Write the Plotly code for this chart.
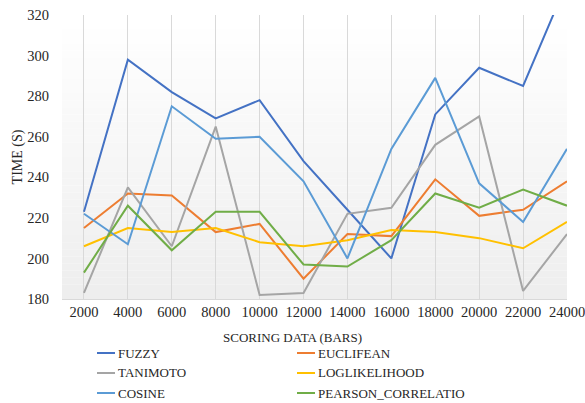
import plotly.graph_objects as go

categories = ["2000", "4000", "6000", "8000", "10000", "12000", "14000",
              "16000", "18000", "20000", "22000", "24000"]
fuzzy = [223, 298, 282, 269, 278, 248, 224, 200, 271, 294, 285, 336]
euclifean = [215, 232, 231, 213, 217, 190, 212, 211, 239, 221, 224, 238]
tanimoto = [183, 235, 206, 265, 182, 183, 222, 225, 256, 270, 184, 212]
loglikelihood = [206, 215, 213, 215, 208, 206, 209, 214, 213, 210, 205, 218]
cosine = [222, 207, 275, 259, 260, 238, 200, 254, 289, 237, 218, 254]
pearson = [193, 226, 204, 223, 223, 197, 196, 209, 232, 225, 234, 226]
y_ticks = [180, 200, 220, 240, 260, 280, 300, 320]

series_names = ["FUZZY", "EUCLIFEAN", "TANIMOTO", "LOGLIKELIHOOD", "COSINE",
                "PEARSON_CORRELATIO"]
series_values = [fuzzy, euclifean, tanimoto, loglikelihood, cosine, pearson]
series_colors = ["#4472C4", "#ED7D31", "#A5A5A5", "#FFC000", "#5B9BD5", "#70AD47"]

FONT = "Liberation Serif, Times New Roman, serif"
TXT = "#262626"

W, H = 585, 403
ML, MR, MT, MB = 62, 18, 15, 104
PW, PH = W - ML - MR, H - MT - MB


def px_x(px):
    return (px - ML) / PW


def px_y(py):
    return (H - MB - py) / PH


fig = go.Figure()
for name, vals, col in zip(series_names, series_values, series_colors):
    fig.add_trace(go.Scatter(x=categories, y=vals, mode="lines", name=name,
                             line=dict(color=col, width=2), showlegend=False))

# gradient plot background (white at top to light gray at bottom)
n = 40
shapes = []
for i in range(n):
    t = i / (n - 1)
    g = int(round(255 - (255 - 238) * t))
    shapes.append(dict(type="rect", xref="paper", yref="paper", layer="below",
                       x0=0, x1=1, y0=1 - (i + 1) / n, y1=1 - i / n,
                       fillcolor=f"rgb({g},{g},{g})", line=dict(width=0)))

annotations = [dict(text="SCORING DATA (BARS)", xref="paper", yref="paper",
                    x=px_x(292), y=px_y(337), xanchor="center", yanchor="middle",
                    showarrow=False, font=dict(family=FONT, size=13, color=TXT))]

# legend: two columns, three rows (drawn below the plot)
col_x = [97, 297]
row_y = [353, 373, 393]
for i, (name, col) in enumerate(zip(series_names, series_colors)):
    lx = col_x[i % 2]
    ly = row_y[i // 2]
    shapes.append(dict(type="line", xref="paper", yref="paper",
                       x0=px_x(lx), x1=px_x(lx + 18), y0=px_y(ly), y1=px_y(ly),
                       line=dict(color=col, width=2)))
    annotations.append(dict(text=name, xref="paper", yref="paper",
                            x=px_x(lx + 19), y=px_y(ly), xanchor="left",
                            yanchor="middle", showarrow=False,
                            font=dict(family=FONT, size=13, color=TXT)))

fig.update_layout(
    width=W, height=H,
    margin=dict(l=ML, r=MR, t=MT, b=MB),
    paper_bgcolor="white",
    plot_bgcolor="rgba(0,0,0,0)",
    font=dict(family=FONT, size=14, color=TXT),
    shapes=shapes,
    annotations=annotations,
    showlegend=False,
)
fig.update_xaxes(type="category", range=[-0.5, 11], showgrid=True, automargin=False,
                 gridcolor="#d9d9d9", gridwidth=1, showline=True,
                 linecolor="#d9d9d9", linewidth=1, ticks="", zeroline=False,
                 tickfont=dict(family=FONT, size=14.5, color=TXT))
fig.update_yaxes(range=[180, 320], tickvals=y_ticks, showgrid=False, automargin=False,
                 showline=False, zeroline=False, ticks="", ticklabelstandoff=12,
                 title=dict(text="TIME (S)", standoff=1,
                            font=dict(family=FONT, size=14, color=TXT)),
                 tickfont=dict(family=FONT, size=14.5, color=TXT))

fig.write_html("out.html", config={"displayModeBar": False},
               post_script="document.body.style.margin='0';"
                           "document.body.style.overflow='hidden';")
